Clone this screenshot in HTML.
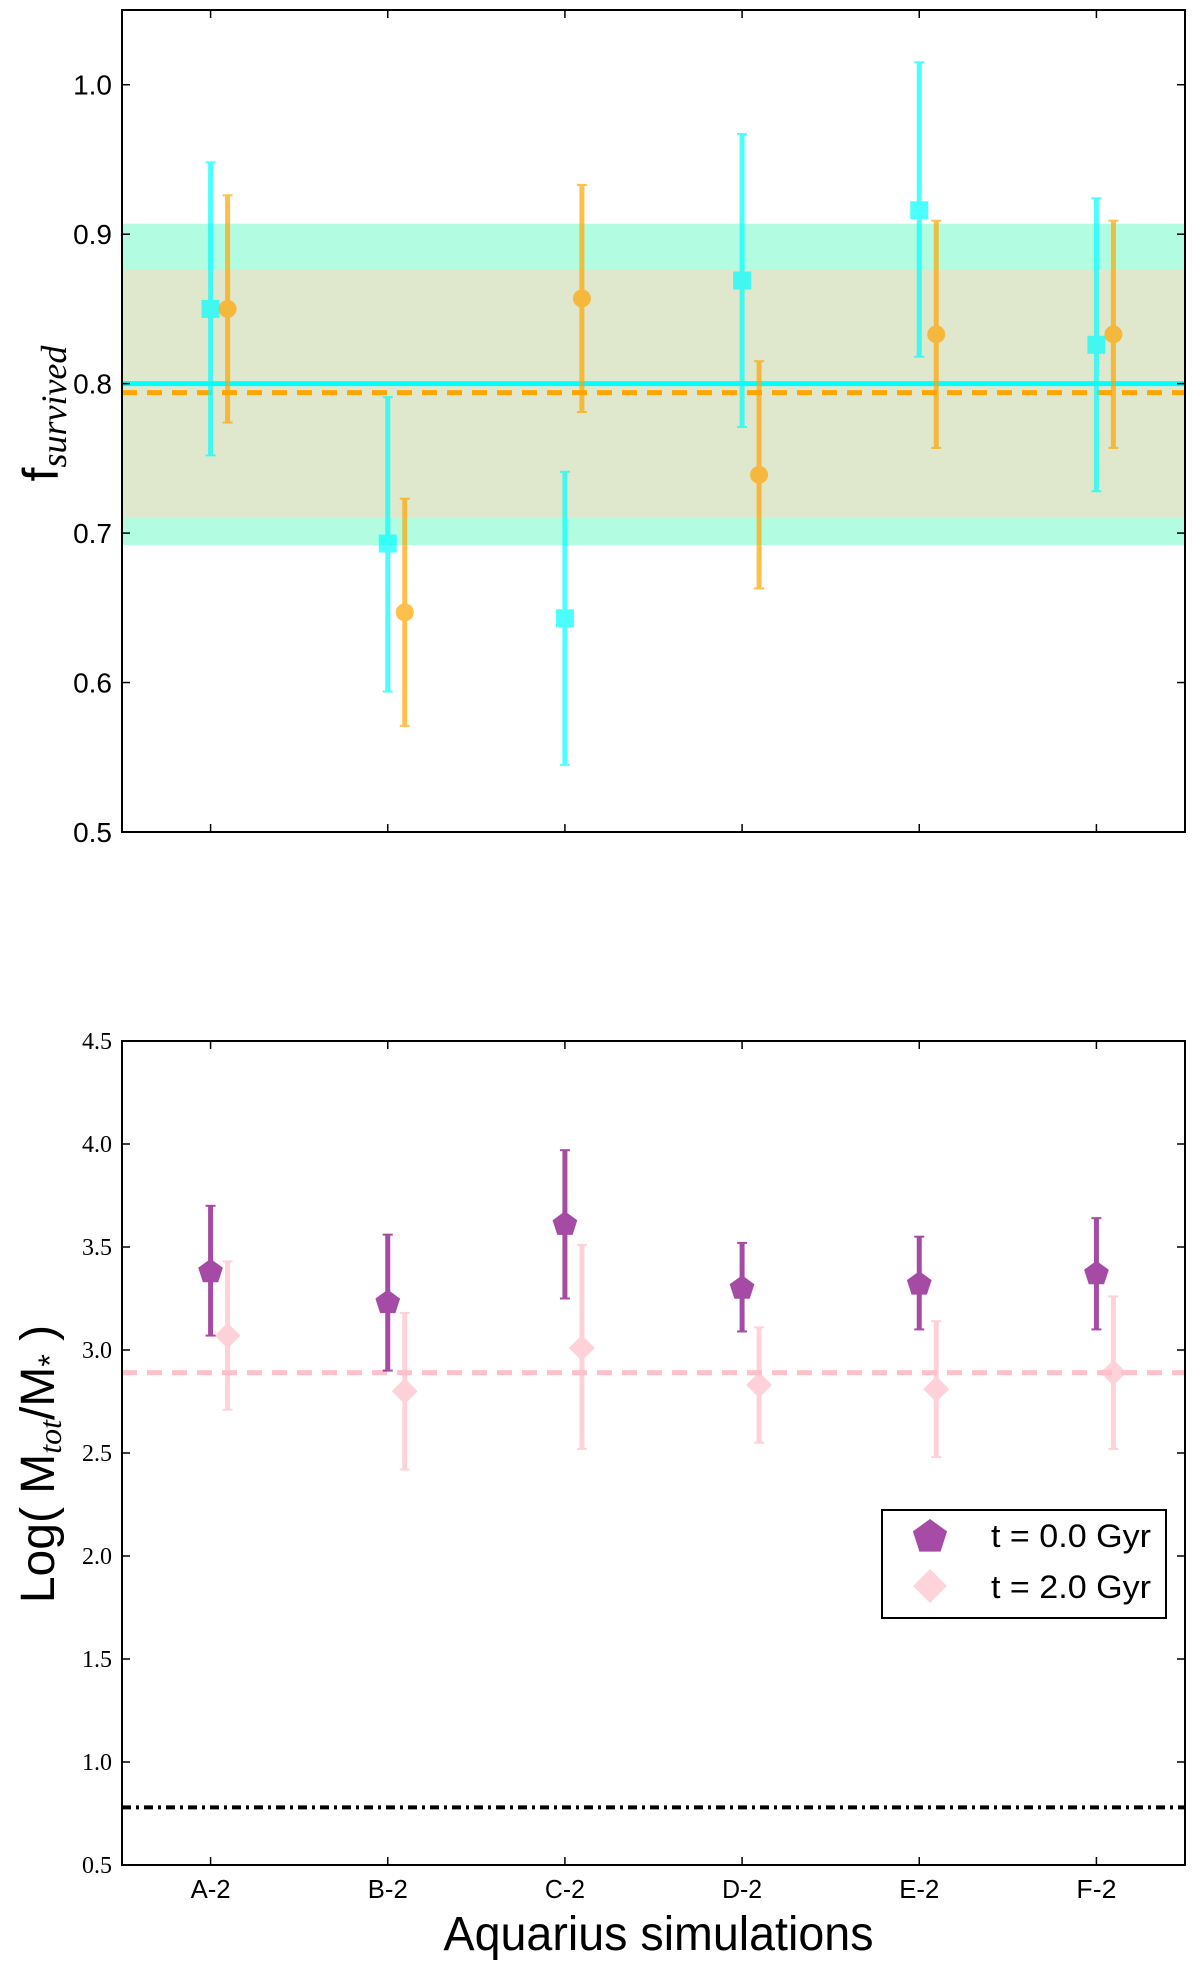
<!DOCTYPE html>
<html><head><meta charset="utf-8"><style>
body{margin:0;background:#fff}
svg{display:block}
text{font-family:"Liberation Sans",sans-serif}
.serif{font-family:"Liberation Serif",serif}
</style></head><body>
<svg id="c" width="1200" height="1965" viewBox="0 0 1200 1965" xmlns="http://www.w3.org/2000/svg"></svg>
<script>
const categories=["A-2","B-2","C-2","D-2","E-2","F-2"];
const t1Val=[0.85,0.693,0.643,0.869,0.916,0.826];
const t1Lo=[0.752,0.594,0.545,0.771,0.818,0.728];
const t1Hi=[0.948,0.791,0.741,0.967,1.015,0.924];
const t2Val=[0.85,0.647,0.857,0.739,0.833,0.833];
const t2Lo=[0.774,0.571,0.781,0.663,0.757,0.757];
const t2Hi=[0.926,0.723,0.933,0.815,0.909,0.909];
const topTicks=[0.5,0.6,0.7,0.8,0.9,1.0];
const cyanBand=[0.692,0.907];
const oliveBand=[0.710,0.876];
const cyanMean=[0.800];
const orangeMean=[0.794];
const m0Val=[3.38,3.23,3.61,3.30,3.32,3.37];
const m0Lo=[3.07,2.90,3.25,3.09,3.10,3.10];
const m0Hi=[3.70,3.56,3.97,3.52,3.55,3.64];
const m2Val=[3.07,2.80,3.01,2.83,2.81,2.89];
const m2Lo=[2.71,2.42,2.52,2.55,2.48,2.52];
const m2Hi=[3.43,3.18,3.51,3.11,3.14,3.26];
const botTicks=[0.5,1.0,1.5,2.0,2.5,3.0,3.5,4.0,4.5];
const pinkMean=[2.89];
const blackRef=[0.78];

const NS="http://www.w3.org/2000/svg";
const svg=document.getElementById('c');
function mk(tag,attrs,parent){const e=document.createElementNS(NS,tag);for(const k in attrs)e.setAttribute(k,attrs[k]);(parent||svg).appendChild(e);return e;}
const L=122,R=1185;
const xs=i=>L+(i+0.5)*(R-L)/6;
const T1=10,B1=832,yTop=v=>B1-(v-0.5)/(1.05-0.5)*(B1-T1);
const T2=1041,B2=1865,yBot=v=>B2-(v-0.5)/(4.0)*(B2-T2);

let g=mk('g',{});

let e=mk('rect',{x:L,y:yTop(cyanBand[1]),width:R-L,height:yTop(cyanBand[0])-yTop(cyanBand[1]),fill:'#b2fde2'},g);

e=mk('rect',{x:L,y:yTop(oliveBand[1]),width:R-L,height:yTop(oliveBand[0])-yTop(oliveBand[1]),fill:'#dfe7cc'},g);

e=mk('line',{x1:L,x2:R,y1:yTop(cyanMean[0]),y2:yTop(cyanMean[0]),stroke:'#00ffff',"stroke-width":5},g);

e=mk('line',{x1:L,x2:R,y1:yTop(orangeMean[0]),y2:yTop(orangeMean[0]),stroke:'#ffa500',"stroke-width":5,"stroke-dasharray":"15 10"},g);

function errbar(par,x,lo,hi,col,w){
  mk('line',{x1:x,x2:x,y1:lo,y2:hi,stroke:col,"stroke-width":w},par);
  mk('line',{x1:x-5,x2:x+5,y1:lo,y2:lo,stroke:col,"stroke-width":2},par);
  mk('line',{x1:x-5,x2:x+5,y1:hi,y2:hi,stroke:col,"stroke-width":2},par);
}
categories.forEach((c,i)=>{
  let x=xs(i);
  let p=mk('g',{opacity:0.7},g);
  
  errbar(p,x,yTop(t1Lo[i]),yTop(t1Hi[i]),'#00ffff',5);
  mk('rect',{x:x-9,y:yTop(t1Val[i])-9,width:18,height:18,fill:'#00ffff'},p);
  x=xs(i)+17;
  p=mk('g',{opacity:0.7},g);
  
  errbar(p,x,yTop(t2Lo[i]),yTop(t2Hi[i]),'#ffa500',5);
  mk('circle',{cx:x,cy:yTop(t2Val[i]),r:9,fill:'#ffa500'},p);
});
function frame(par,T,B){
  mk('rect',{x:L,y:T,width:R-L,height:B-T,fill:'none',stroke:'#000',"stroke-width":2},par);
  categories.forEach((c,i)=>{const x=xs(i);
    mk('line',{x1:x,x2:x,y1:B,y2:B-8,stroke:'#000',"stroke-width":1.5},par);
    mk('line',{x1:x,x2:x,y1:T,y2:T+8,stroke:'#000',"stroke-width":1.5},par);});
}
frame(g,T1,B1);
topTicks.forEach(v=>{const y=yTop(v);
  mk('line',{x1:L,x2:L+8,y1:y,y2:y,stroke:'#000',"stroke-width":1.5},g);
  mk('line',{x1:R,x2:R-8,y1:y,y2:y,stroke:'#000',"stroke-width":1.5},g);
  const t=mk('text',{x:L-10,y:y+10,"text-anchor":"end","font-size":28},g);t.textContent=v.toFixed(1);
  
});
let yl=mk('text',{transform:`translate(58,${yTop(0.78)}) rotate(-90)`,"text-anchor":"middle","font-size":50},g);

yl.innerHTML='f<tspan font-family="Liberation Serif, serif" font-style="italic" font-size="36" dy="8">survived</tspan>';

let g2=mk('g',{});

e=mk('line',{x1:L,x2:R,y1:yBot(pinkMean[0]),y2:yBot(pinkMean[0]),stroke:'#ffc0cb',"stroke-width":5,"stroke-dasharray":"15 10"},g2);

e=mk('line',{x1:L,x2:R,y1:yBot(blackRef[0]),y2:yBot(blackRef[0]),stroke:'#000',"stroke-width":4,"stroke-dasharray":"9 5 3 5"},g2);

function pent(cx,cy,r){let pts=[];for(let k=0;k<5;k++){const a=-Math.PI/2+k*2*Math.PI/5;pts.push((cx+r*Math.cos(a)).toFixed(1)+','+(cy+r*Math.sin(a)).toFixed(1));}return pts.join(' ');}
function diam(cx,cy,r){return `${cx},${cy-r} ${cx+r},${cy} ${cx},${cy+r} ${cx-r},${cy}`;}
categories.forEach((c,i)=>{
  let x=xs(i);
  let p=mk('g',{opacity:0.7},g2);
  
  errbar(p,xs(i)+17,yBot(m2Lo[i]),yBot(m2Hi[i]),'#ffc0cb',5);
  mk('polygon',{points:diam(xs(i)+17,yBot(m2Val[i]),13),fill:'#ffc0cb'},p);
  p=mk('g',{opacity:0.7},g2);
  
  errbar(p,x,yBot(m0Lo[i]),yBot(m0Hi[i]),'#800080',5);
  mk('polygon',{points:pent(x,yBot(m0Val[i]),13),fill:'#800080'},p);
});
frame(g2,T2,B2);
botTicks.forEach(v=>{const y=yBot(v);
  mk('line',{x1:L,x2:L+8,y1:y,y2:y,stroke:'#000',"stroke-width":1.5},g2);
  mk('line',{x1:R,x2:R-8,y1:y,y2:y,stroke:'#000',"stroke-width":1.5},g2);
  const t=mk('text',{x:L-10,y:y+8,"text-anchor":"end","font-size":24,class:"serif"},g2);t.textContent=v.toFixed(1);
  
});
categories.forEach((c,i)=>{const t=mk('text',{x:xs(i),y:1898,"text-anchor":"middle","font-size":26,"textLength":40,"lengthAdjust":"spacingAndGlyphs"},g2);t.textContent=c;
  });
let xt=mk('text',{x:(L+R)/2+5,y:1950,"text-anchor":"middle","font-size":48,"textLength":430,"lengthAdjust":"spacingAndGlyphs"},g2);xt.textContent='Aquarius simulations';

let yl2=mk('text',{transform:`translate(54,1464) rotate(-90)`,"text-anchor":"middle","font-size":48},g2);

yl2.innerHTML='Log( M<tspan font-family="Liberation Serif, serif" font-style="italic" font-size="32" dy="7">tot</tspan><tspan dy="-7">/M</tspan><tspan font-size="32" dy="7">*</tspan><tspan dy="-7"> )</tspan>';
let lg=mk('g',{},g2);

mk('rect',{x:882,y:1510,width:284,height:108,fill:'#fff',stroke:'#000',"stroke-width":2},lg);
let le=mk('g',{},lg);
mk('polygon',{points:pent(930,1537,18),fill:'#800080',opacity:0.7},le);
let tt=mk('text',{x:991,y:1547,"font-size":32,"textLength":160,"lengthAdjust":"spacingAndGlyphs"},le);tt.textContent='t = 0.0 Gyr';
le=mk('g',{},lg);
mk('polygon',{points:diam(930,1586,17),fill:'#ffc0cb',opacity:0.7},le);
tt=mk('text',{x:991,y:1598,"font-size":32,"textLength":160,"lengthAdjust":"spacingAndGlyphs"},le);tt.textContent='t = 2.0 Gyr';
</script>
</body></html>
